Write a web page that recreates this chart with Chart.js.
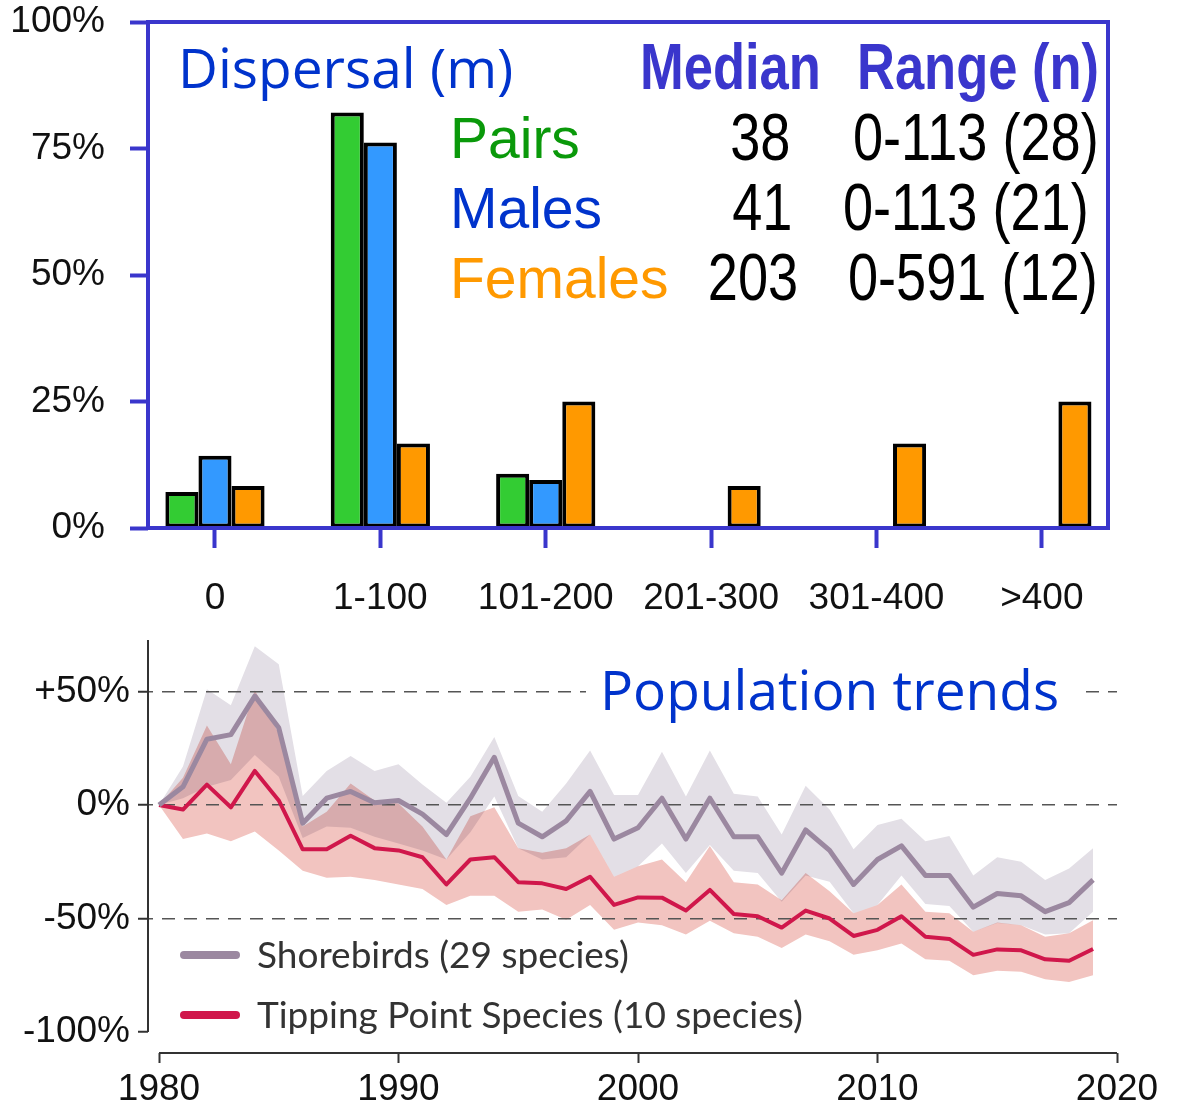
<!DOCTYPE html>
<html lang="en">
<head>
<meta charset="UTF-8">
<title>Dispersal and population trends</title>
<script src="https://cdn.jsdelivr.net/npm/chart.js@4.4.1/dist/chart.umd.min.js"></script>
<style>
  body { margin: 0; background: #fff; }
  #wrap { position: relative; width: 1180px; height: 1110px; overflow: hidden; }
  canvas { position: absolute; left: 0; }
  #barChart { top: 0; }
  #lineChart { top: 620px; }
  .t { position: absolute; white-space: nowrap; line-height: 1; }
  /* no narrow face installed: squeeze Liberation Sans instead */
  .narrow { font-family: 'Liberation Sans', Arial, sans-serif; transform: scaleX(0.82); transform-origin: left center; }
  .narrow.r { transform-origin: right center; }
  .arial { font-family: 'Liberation Sans', Arial, sans-serif; }
  .calibri { font-family: 'Open Sans', 'Noto Sans', sans-serif; }
  .num { font-size: 66px; color: #000; }
  .swatch { position: absolute; left: 180px; width: 60px; height: 8px; border-radius: 4px; }
  .leg { font-family: Lato, 'Open Sans', sans-serif; font-size: 37px; color: #333; left: 257px; }
</style>
</head>
<body>
<div id="wrap">
  <canvas id="barChart" width="1180" height="620"></canvas>
  <canvas id="lineChart" width="1180" height="490"></canvas>

  <!-- top panel annotations -->
  <div class="t calibri" style="left:178px; top:39px; font-size:55px; color:#0033cc;">Dispersal (m)</div>
  <div class="t narrow" style="left:640px; top:35px; font-size:64px; font-weight:bold; color:#3a36cc;">Median</div>
  <div class="t narrow" style="left:857px; top:35px; font-size:64px; font-weight:bold; color:#3a36cc;">Range (n)</div>

  <div class="t arial" style="left:450px; top:110px; font-size:57px; color:#0a990a;">Pairs</div>
  <div class="t narrow r num" style="right:390px; top:104px;">38</div>
  <div class="t narrow num" style="left:853px; top:104px;">0-113 (28)</div>

  <div class="t arial" style="left:450px; top:180px; font-size:57px; color:#0033cc;">Males</div>
  <div class="t narrow r num" style="right:388px; top:174px;">41</div>
  <div class="t narrow num" style="left:843px; top:174px;">0-113 (21)</div>

  <div class="t arial" style="left:450px; top:250px; font-size:57px; color:#ff9900;">Females</div>
  <div class="t narrow r num" style="right:382px; top:244px;">203</div>
  <div class="t narrow num" style="left:848px; top:244px;">0-591 (12)</div>

  <!-- bottom panel annotations -->
  <div class="t calibri" style="left:586px; top:661px; padding:0 24px 8px 14px; background:#fff; font-size:55px; color:#0033cc;">Population trends</div>
  <span class="swatch" style="top:951px; background:#9b88a0;"></span>
  <div class="t leg" style="top:935px;">Shorebirds (29 species)</div>
  <span class="swatch" style="top:1011px; background:#d0174b;"></span>
  <div class="t leg" style="top:995px;">Tipping Point Species (10 species)</div>
</div>

<script>
// ---- dispersal histogram (share of birds per distance class, %)
const categories = ['0', '1-100', '101-200', '201-300', '301-400', '>400'];
const pairs   = [7.1, 82.1, 10.7, null, null, null];
const males   = [14.3, 76.2, 9.5, null, null, null];
const females = [8.3, 16.7, 25, 8.3, 16.7, 25];
const barTicks = [0, 25, 50, 75, 100];

// ---- population trends (% change since 1980)
const years = [1980, 1981, 1982, 1983, 1984, 1985, 1986, 1987, 1988, 1989,
               1990, 1991, 1992, 1993, 1994, 1995, 1996, 1997, 1998, 1999,
               2000, 2001, 2002, 2003, 2004, 2005, 2006, 2007, 2008, 2009,
               2010, 2011, 2012, 2013, 2014, 2015, 2016, 2017, 2018, 2019];
const shorebirds = [0, 8, 29, 31, 48, 34, -8, 3, 6, 1,
                    2, -4, -13, 3, 21, -8, -14, -7, 6, -15,
                    -10, 3, -15, 3, -14, -14, -30, -11, -20, -35,
                    -24, -18, -31, -31, -45, -39, -40, -47, -43, -33];
const shorebirdsHigh = [0, 17, 51, 44, 70, 62, 4, 15, 21.6, 15,
                        18, 9, 1, 12.5, 30, 4, -3, 9.5, 24, 4.4,
                        4.4, 23.5, 3.7, 24, 5, 3.7, -13, 8.5, -2, -19.5,
                        -8.8, -6, -16, -13.7, -31, -23, -25, -33, -28, -19];
const shorebirdsLow = [0, 3, 8, 11, 22, 12.5, -14.5, -9.5, -10, -14,
                       -17, -20, -24, -12, 3.7, -19, -24, -23, -13, -31.6,
                       -27, -17, -30, -17.6, -29, -30, -42.6, -31, -33.8, -47.7,
                       -44, -31, -43.6, -44.5, -55.8, -52, -53, -57, -56.5, -47];
const tipping = [0, -2, 9, -1, 15, 2, -19.5, -19.5, -13.5, -19,
                 -20, -23, -35, -24, -23, -34, -34.5, -37, -31.6, -44,
                 -40.7, -40.8, -46.5, -37.4, -48, -49, -54, -46.5, -50, -57.7,
                 -55, -49, -58, -59, -66, -63.6, -64, -68, -68.6, -63.4];
const tippingHigh = [0, 12, 35, 18, 50.6, 31.6, -9.5, -3, 9.5, 2,
                     0.7, -9.5, -24, -5, -1, -19, -21, -19, -13, -31.6,
                     -27, -24, -34, -18, -34, -35, -42, -30, -38, -47.7,
                     -44, -35, -47, -47.7, -55.8, -51.8, -53, -58, -56.5, -50.7];
const tippingLow = [0, -15, -12.5, -16, -11.7, -20, -29, -32, -31.6, -33,
                    -35, -37, -44, -40, -40, -47, -46, -50.6, -44, -55,
                    -51.8, -53, -57, -51, -56.5, -58, -63, -57, -60, -66,
                    -64, -61, -68, -68.6, -75, -73, -73.4, -76.8, -78, -75];
const trendTicks = [-100, -50, 0, 50];
const yearTicks = [1980, 1990, 2000, 2010, 2020];

const TICK_FONT = { family: "'Liberation Sans', Arial, sans-serif", size: 37, lineHeight: 1 };
const BOX_BLUE = '#3a36cc';

// keep tick label overhang from pushing the plot area in
function fixedAxis(size, horizontal) {
    return s => {
        if (horizontal) s.height = size; else s.width = size;
        s.paddingTop = 0; s.paddingBottom = 0;
    };
}

// blue frame round the histogram
const boxPlugin = {
    id: 'box',
    afterDatasetsDraw(chart) {
        const a = chart.chartArea, ctx = chart.ctx;
        ctx.save();
        ctx.strokeStyle = BOX_BLUE;
        ctx.lineWidth = 4;
        ctx.strokeRect(a.left, a.top, a.right - a.left, a.bottom - a.top);
        ctx.restore();
    }
};

new Chart(document.getElementById('barChart'), {
    type: 'bar',
    data: {
        labels: categories.map((c, i) => i),
        datasets: [
            { label: 'Pairs', data: pairs, backgroundColor: '#33cc33' },
            { label: 'Males', data: males, backgroundColor: '#3399ff' },
            { label: 'Females', data: females, backgroundColor: '#ff9900' }
        ]
    },
    options: {
        responsive: false,
        animation: false,
        layout: { padding: { left: 0, top: 22, right: 72, bottom: 0 } },
        datasets: {
            bar: { borderColor: '#000', borderWidth: 4, borderSkipped: false,
                   categoryPercentage: 0.6, barPercentage: 1.0 }
        },
        plugins: { legend: { display: false }, tooltip: { enabled: false } },
        scales: {
            x: {
                type: 'linear', min: -0.405, max: 5.4, offset: false,
                afterBuildTicks: s => { s.ticks = categories.map((c, i) => ({ value: i })); },
                afterFit: fixedAxis(92, true),
                border: { display: false },
                grid: { drawOnChartArea: false, offset: false, tickLength: 20,
                        tickColor: BOX_BLUE, tickWidth: 4 },
                ticks: { padding: 32, color: '#111', font: TICK_FONT, callback: v => categories[v] }
            },
            y: {
                min: 0, max: 100,
                afterBuildTicks: s => { s.ticks = barTicks.map(v => ({ value: v })); },
                afterFit: fixedAxis(148, false),
                border: { display: false },
                grid: { drawOnChartArea: false, tickLength: 18, tickColor: BOX_BLUE, tickWidth: 4 },
                ticks: { padding: 25, color: '#111', font: TICK_FONT, callback: v => v + '%' }
            }
        }
    },
    plugins: [boxPlugin]
});

// separate (R-style) axis lines for the trends panel
const axisLines = {
    id: 'axisLines',
    afterDraw(chart) {
        const { ctx, chartArea: a, scales: { x, y } } = chart;
        ctx.save();
        ctx.strokeStyle = '#333';
        ctx.lineWidth = 2;
        ctx.beginPath();
        ctx.moveTo(a.left, a.top);
        ctx.lineTo(a.left, y.getPixelForValue(trendTicks[0]));
        ctx.moveTo(x.getPixelForValue(yearTicks[0]), a.bottom);
        ctx.lineTo(x.getPixelForValue(yearTicks[yearTicks.length - 1]), a.bottom);
        ctx.stroke();
        ctx.restore();
    }
};

// the two confidence bands are blended by multiplication, as in the original
const multiplyBands = {
    id: 'multiplyBands',
    beforeRender(chart) { chart.ctx.globalCompositeOperation = 'multiply'; },
    beforeDraw(chart) { chart.ctx.globalCompositeOperation = 'source-over'; }
};

const band = { borderWidth: 0, pointRadius: 0 };

new Chart(document.getElementById('lineChart'), {
    type: 'line',
    data: {
        labels: years,
        datasets: [
            { ...band, data: shorebirdsHigh, fill: '+1', backgroundColor: '#e3dfe6' },
            { ...band, data: shorebirdsLow, fill: false },
            { ...band, data: tippingHigh, fill: '+1', backgroundColor: '#f2c4c0' },
            { ...band, data: tippingLow, fill: false },
            { label: 'Shorebirds (29 species)', data: shorebirds, fill: false,
              borderColor: '#9b88a0', borderWidth: 5, pointRadius: 0, borderJoinStyle: 'round' },
            { label: 'Tipping Point Species (10 species)', data: tipping, fill: false,
              borderColor: '#d0174b', borderWidth: 4, pointRadius: 0, borderJoinStyle: 'round' }
        ]
    },
    options: {
        responsive: false,
        animation: false,
        layout: { padding: { left: 0, top: 20, right: 63, bottom: 0 } },
        plugins: {
            legend: { display: false },
            tooltip: { enabled: false },
            filler: { drawTime: 'beforeDraw' }
        },
        scales: {
            x: {
                type: 'linear', min: 1979.54, max: 2020,
                afterBuildTicks: s => { s.ticks = yearTicks.map(v => ({ value: v })); },
                afterFit: fixedAxis(57, true),
                border: { display: false },
                grid: { drawOnChartArea: false, tickLength: 10, tickColor: '#333', tickWidth: 2 },
                ticks: { padding: 8, color: '#111', font: TICK_FONT, callback: v => String(v) }
            },
            y: {
                min: -109.25, max: 72.7,
                afterBuildTicks: s => { s.ticks = trendTicks.map(v => ({ value: v })); },
                afterFit: fixedAxis(148, false),
                border: { display: false, dash: [13, 9], dashOffset: 8 },
                grid: {
                    color: c => (c.tick && c.tick.value === trendTicks[0]) ? 'rgba(0,0,0,0)' : '#555',
                    lineWidth: 1.5, tickLength: 10, tickColor: '#333', tickWidth: 2
                },
                ticks: { padding: 8, color: '#111', font: TICK_FONT,
                         callback: v => (v > 0 ? '+' : '') + v + '%' }
            }
        }
    },
    plugins: [axisLines, multiplyBands]
});
</script>
</body>
</html>
